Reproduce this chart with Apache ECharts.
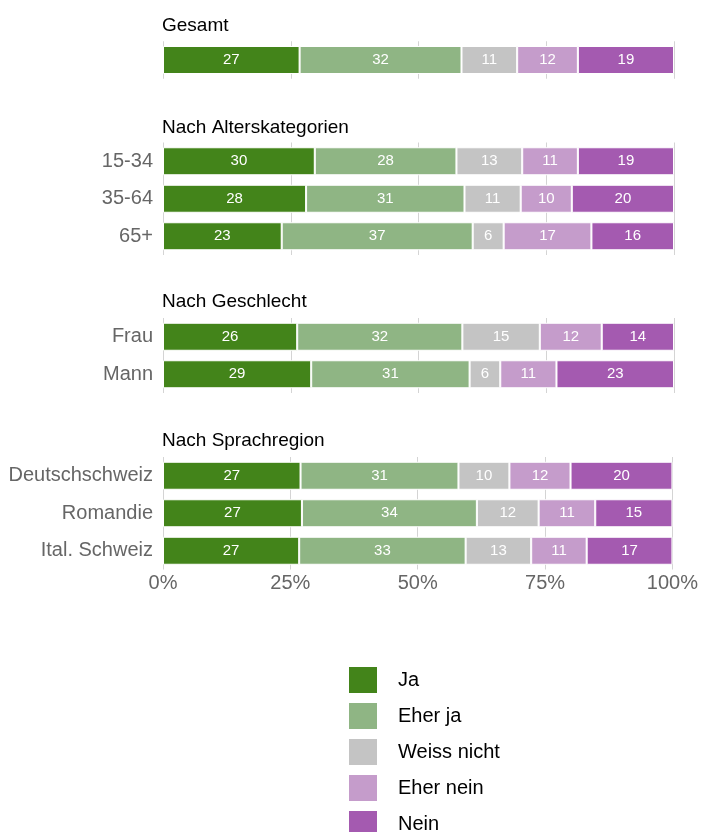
<!DOCTYPE html>
<html>
<head>
<meta charset="utf-8">
<script src="https://cdn.jsdelivr.net/npm/echarts@6/dist/echarts.min.js"></script>
<style>
  html, body { margin: 0; padding: 0; background: #fff; }
  #chart { width: 701px; height: 832px; }
</style>
</head>
<body>
<div id="chart"></div>
<script>
// antworten
const answers = ['Ja', 'Eher ja', 'Weiss nicht', 'Eher nein', 'Nein'];
const colors = ['#43841a', '#8fb584', '#c4c4c4', '#c59ccb', '#a45ab0'];

// gruppen
const groupTitles = ['Gesamt', 'Nach Alterskategorien', 'Nach Geschlecht', 'Nach Sprachregion'];
const groupRows = [
    [''],
    ['15-34', '35-64', '65+'],
    ['Frau', 'Mann'],
    ['Deutschschweiz', 'Romandie', 'Ital. Schweiz']
];

// werte je zeile (Ja, Eher ja, Weiss nicht, Eher nein, Nein)
const gesamt = [[27, 32, 11, 12, 19]];
const alter = [
    [30, 28, 13, 11, 19],
    [28, 31, 11, 10, 20],
    [23, 37, 6, 17, 16]
];
const geschlecht = [
    [26, 32, 15, 12, 14],
    [29, 31, 6, 11, 23]
];
const sprachregion = [
    [27, 31, 10, 12, 20],
    [27, 34, 12, 11, 15],
    [27, 33, 13, 11, 17]
];
const groupValues = [gesamt, alter, geschlecht, sprachregion];

const xTicks = ['0%', '25%', '50%', '75%', '100%'];

const font = 'Liberation Sans, Arial, sans-serif';
let myChart = echarts.init(document.getElementById('chart'));

const rowH = 37.5;
const gridTops = [41.25, 142.5, 318, 457];
const titleTops = [16, 118, 292, 431];

let grids = [], xAxes = [], yAxes = [], series = [], titles = [];

groupValues.forEach((rows, g) => {
    grids.push({
        left: 163,
        right: 27,
        top: gridTops[g],
        height: rows.length * rowH
    });
    titles.push({
        text: groupTitles[g],
        left: 162,
        top: titleTops[g],
        padding: 0,
        textStyle: { fontSize: 19, fontWeight: 'normal', color: '#000', fontFamily: font }
    });
    const last = g === groupValues.length - 1;
    xAxes.push({
        gridIndex: g,
        type: 'value',
        min: 0,
        max: 100,
        interval: 25,
        axisLine: { show: false },
        axisTick: { show: false },
        axisLabel: {
            show: last,
            margin: 4,
            fontSize: 20,
            color: '#666',
            fontFamily: font,
            formatter: (v) => xTicks[Math.round(v / 25)]
        },
        splitLine: { show: true, lineStyle: { color: '#d4d4d4', width: 1 } }
    });
    yAxes.push({
        gridIndex: g,
        type: 'category',
        inverse: true,
        data: groupRows[g],
        axisLine: { show: false },
        axisTick: { show: false },
        axisLabel: {
            margin: 10,
            fontSize: 20,
            color: '#666',
            fontFamily: font
        }
    });
    answers.forEach((name, a) => {
        series.push({
            name: name,
            type: 'bar',
            stack: 'g' + g,
            xAxisIndex: g,
            yAxisIndex: g,
            barWidth: 28,
            itemStyle: { color: colors[a], borderColor: '#fff', borderWidth: 1 },
            label: {
                show: true,
                position: 'inside',
                color: '#fff',
                fontSize: 15,
                fontFamily: font,
                formatter: (p) => p.data.raw
            },
            // anteile auf 100% normiert, beschriftet mit gerundetem wert
            data: rows.map(r => {
                const sum = r.reduce((s, v) => s + v, 0);
                return { value: r[a] / sum * 100, raw: r[a] };
            })
        });
    });
});

let option = {
    animation: false,
    title: titles,
    grid: grids,
    xAxis: xAxes,
    yAxis: yAxes,
    legend: {
        data: answers,
        orient: 'vertical',
        left: 347,
        top: 665,
        height: 300,
        padding: 0,
        itemWidth: 30,
        itemHeight: 28,
        itemGap: 6,
        icon: 'rect',
        textStyle: { fontSize: 20, color: '#000', padding: [0, 0, 0, 15], fontFamily: font }
    },
    series: series
};

myChart.setOption(option);
</script>
</body>
</html>
